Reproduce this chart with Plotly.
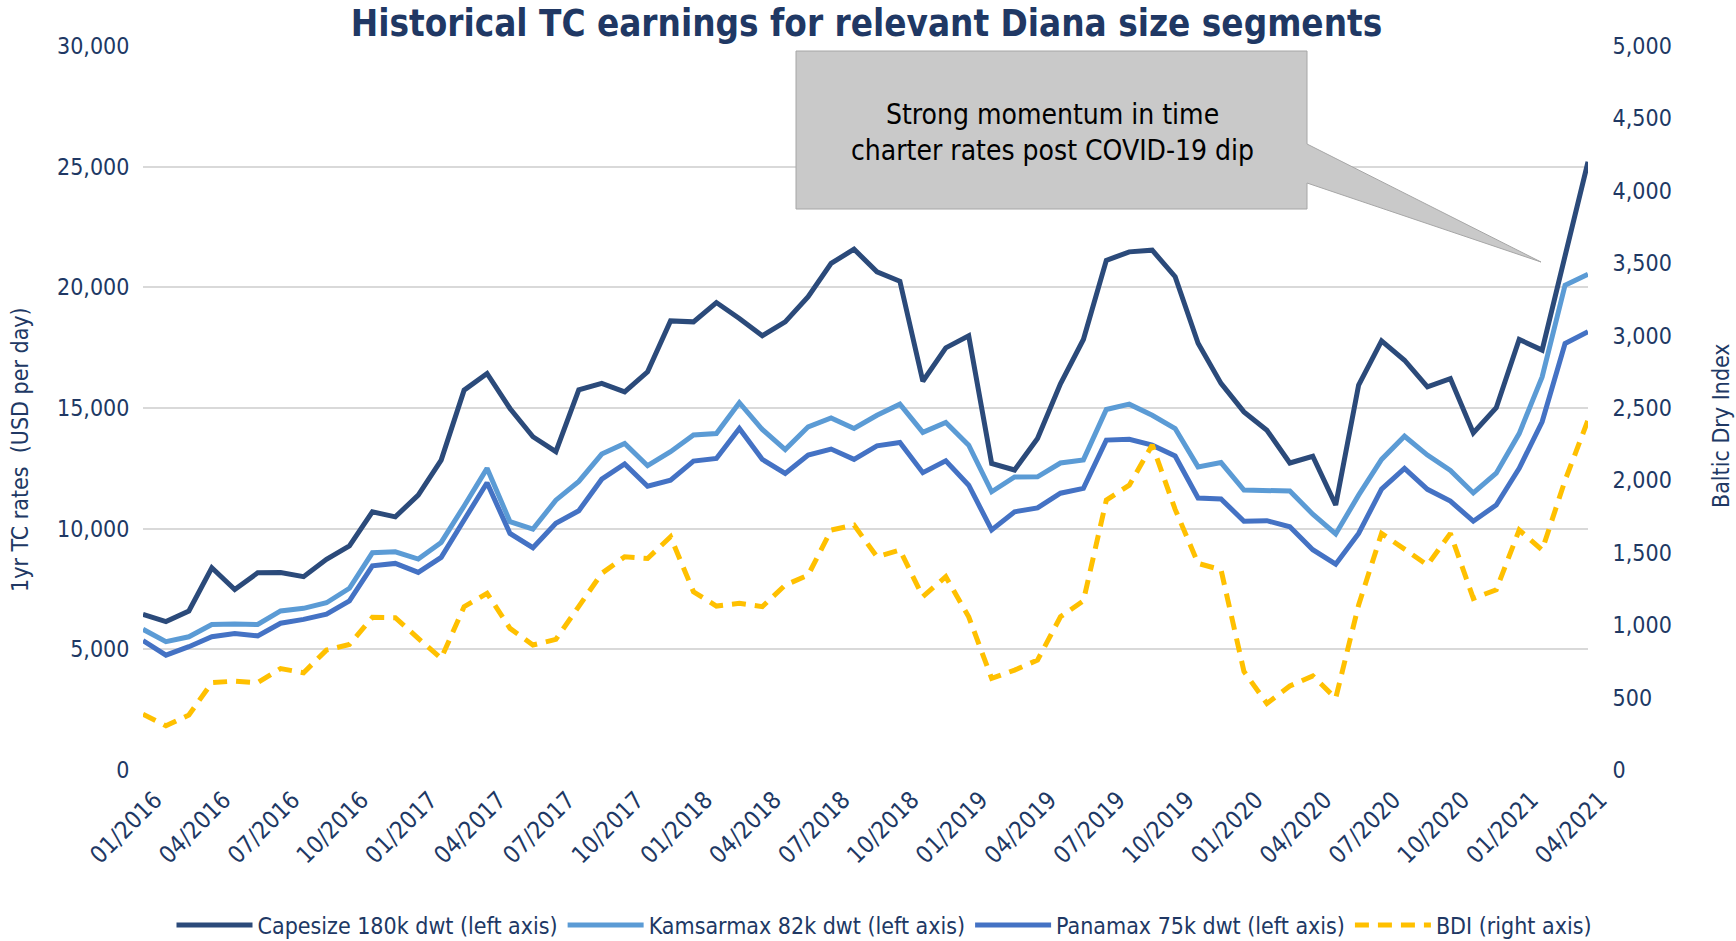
import plotly.graph_objects as go

# ---------------- data ----------------
months = [f"{m:02d}/{y}" for y in range(2016, 2022) for m in range(1, 13)][:64]
tick_labels = months[::3]

capesize = [6450, 6150, 6590, 8380, 7480, 8170, 8180, 8010, 8730, 9290,
            10700, 10490, 11390, 12840, 15740, 16430, 14980, 13810, 13190, 15750,
            16020, 15670, 16500, 18610, 18570, 19370, 18710, 17990, 18570, 19610,
            20990, 21580, 20640, 20250, 16110, 17490, 17990, 12700, 12430, 13740,
            16000, 17840, 21120, 21470, 21540, 20440, 17680, 16020, 14840, 14080,
            12720, 13000, 10980, 15950, 17780, 16980, 15880, 16220, 13970, 15010,
            17840, 17400, 21300, 25200]

kamsarmax = [5830, 5320, 5520, 6030, 6050, 6030, 6590, 6700, 6930, 7530,
             9000, 9040, 8740, 9430, 10940, 12500, 10290, 9980, 11180, 11960,
             13090, 13530, 12610, 13190, 13880, 13940, 15220, 14110, 13280, 14220,
             14590, 14150, 14700, 15160, 13990, 14400, 13460, 11530, 12140, 12150,
             12720, 12850, 14940, 15160, 14700, 14150, 12560, 12740, 11600, 11560,
             11560, 10600, 9780, 11390, 12870, 13830, 13050, 12410, 11480, 12300,
             13940, 16290, 20090, 20540]

panamax = [5360, 4760, 5110, 5520, 5660, 5560, 6080, 6240, 6460, 7010,
           8460, 8560, 8190, 8810, 10360, 11900, 9800, 9210, 10220, 10740,
           12050, 12680, 11760, 12010, 12800, 12910, 14150, 12870, 12290, 13050,
           13300, 12870, 13430, 13570, 12320, 12810, 11800, 9950, 10700, 10860,
           11470, 11670, 13670, 13700, 13460, 13010, 11270, 11230, 10310, 10330,
           10080, 9130, 8530, 9800, 11640, 12500, 11630, 11140, 10310, 10980,
           12500, 14430, 17670, 18160]

bdi = [385, 305, 380, 603, 614, 603, 700, 672, 828, 867,
       1054, 1052, 909, 771, 1128, 1220, 978, 863, 902, 1125,
       1358, 1473, 1461, 1611, 1231, 1132, 1151, 1128, 1277, 1346,
       1657, 1691, 1473, 1519, 1197, 1335, 1058, 633, 690, 759,
       1058, 1168, 1864, 1967, 2245, 1800, 1427, 1383, 680, 460,
       580, 650, 495, 1140, 1634, 1525, 1415, 1634, 1185, 1245,
       1657, 1519, 2000, 2416]

# ---------------- styling ----------------
W, H = 1736, 941
L, T = 143, 46
R = W - 1588
B = H - 770
NAVY = "#203864"
FONT = "DejaVu Sans Condensed, DejaVu Sans, sans-serif"


def px(x):
    """page x pixel -> paper coordinate"""
    return (x - L) / (W - L - R)


def py(y):
    """page y pixel -> paper coordinate"""
    return (H - B - y) / (H - T - B)


fig = go.Figure()
fig.add_trace(go.Scatter(x=months, y=capesize, mode="lines", name="Capesize 180k dwt (left axis)",
                         line=dict(color="#2B4A7A", width=5)))
fig.add_trace(go.Scatter(x=months, y=kamsarmax, mode="lines", name="Kamsarmax 82k dwt (left axis)",
                         line=dict(color="#5B9BD5", width=5)))
fig.add_trace(go.Scatter(x=months, y=panamax, mode="lines", name="Panamax 75k dwt (left axis)",
                         line=dict(color="#4472C4", width=5)))
fig.add_trace(go.Scatter(x=months, y=bdi, mode="lines", name="BDI (right axis)", yaxis="y2",
                         line=dict(color="#FFC000", width=5, dash="14px,9px")))

callout = (f"M {px(796)},{py(51)} L {px(1307)},{py(51)} L {px(1307)},{py(144)} "
           f"L {px(1541)},{py(262)} L {px(1307)},{py(183)} L {px(1307)},{py(209)} "
           f"L {px(796)},{py(209)} Z")

fig.update_layout(
    width=W, height=H,
    margin=dict(l=L, r=R, t=T, b=B, autoexpand=False),
    paper_bgcolor="white", plot_bgcolor="white",
    font=dict(family=FONT, color=NAVY, size=22),
    title=dict(text="<b>Historical TC earnings for relevant Diana size segments</b>",
               x=866.5 / W, xanchor="center", y=1 - 23 / H, yanchor="middle",
               font=dict(size=36.5, color=NAVY, family=FONT)),
    xaxis=dict(type="category", tickmode="array", tickvals=tick_labels, ticktext=tick_labels,
               tickangle=-45, tickfont=dict(size=24, color=NAVY), showgrid=False,
               ticks="", showline=False, zeroline=False, automargin=False,
               ticklabelshift=12, ticklabelstandoff=10),
    yaxis=dict(range=[0, 30000], dtick=5000, tickformat=",", showgrid=True,
               gridcolor="#D9D9D9", gridwidth=2, zeroline=False, showline=False,
               tickfont=dict(size=23, color=NAVY), ticks="outside", ticklen=8,
               tickcolor="rgba(0,0,0,0)", automargin=False),
    yaxis2=dict(range=[0, 5000], dtick=500, tickformat=",", overlaying="y", side="right",
                showgrid=False, zeroline=False, showline=False,
                tickfont=dict(size=23, color=NAVY), ticks="outside", ticklen=19,
                tickcolor="rgba(0,0,0,0)", automargin=False),
    legend=dict(orientation="h", x=px(884.5), xanchor="center", y=py(925), yanchor="middle",
                font=dict(size=23, color=NAVY), bgcolor="rgba(0,0,0,0)", itemwidth=76,
                traceorder="normal"),
    showlegend=True,
    shapes=[dict(type="path", path=callout, xref="paper", yref="paper",
                 fillcolor="#C9C9C9", line=dict(color="#A6A6A6", width=1), layer="above")],
    annotations=[
        dict(text="Strong momentum in time<br>charter rates post COVID-19 dip",
             x=px(1052), y=py(132), xref="paper", yref="paper", showarrow=False,
             xanchor="center", yanchor="middle",
             font=dict(size=28, color="black", family=FONT)),
        dict(text="1yr TC rates  (USD per day)", textangle=-90,
             x=px(20), y=py(450), xref="paper", yref="paper", showarrow=False,
             xanchor="center", yanchor="middle", font=dict(size=23, color=NAVY)),
        dict(text="Baltic Dry Index", textangle=-90,
             x=px(1721), y=py(426), xref="paper", yref="paper", showarrow=False,
             xanchor="center", yanchor="middle", font=dict(size=23, color=NAVY)),
    ],
)

# remove the default 8px page margin so the figure fills the window exactly
fig.write_html("out.html", config={"displayModeBar": False},
               post_script="document.body.style.margin='0';")
